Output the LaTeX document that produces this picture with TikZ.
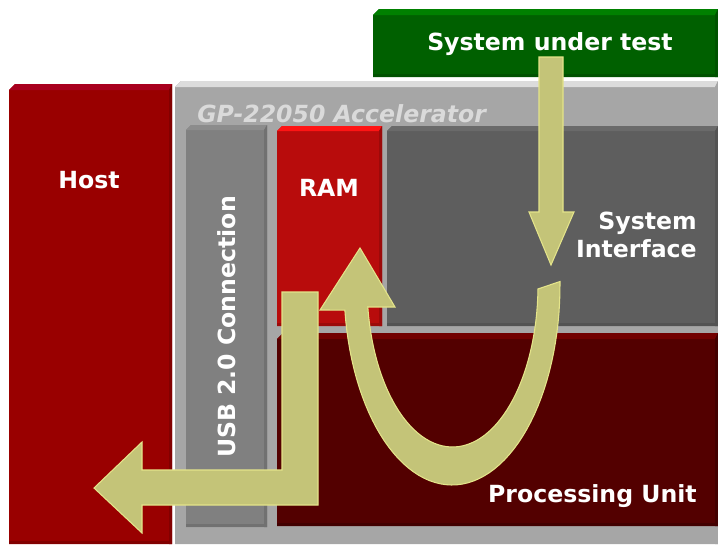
\documentclass[tikz,border=0pt]{standalone}
\usepackage{fontspec}
\setmainfont{DejaVu Sans}
\usepackage{xcolor}
\usepackage{tikz}
\usetikzlibrary{positioning, calc}

\definecolor{sutgreen}{HTML}{006000}
\definecolor{sutgreentop}{HTML}{008000}
\definecolor{hostred}{HTML}{990000}
\definecolor{hostredtop}{HTML}{A8001E}
\definecolor{accgray}{HTML}{A6A6A6}
\definecolor{accgraytop}{HTML}{DCDCDC}
\definecolor{usbgray}{HTML}{808080}
\definecolor{usbgraytop}{HTML}{8C8C8C}
\definecolor{ramred}{HTML}{B80C0C}
\definecolor{ramredtop}{HTML}{FF1414}
\definecolor{sifgray}{HTML}{5E5E5E}
\definecolor{sifgraytop}{HTML}{6A6A6A}
\definecolor{pured}{HTML}{530000}
\definecolor{puredtop}{HTML}{720000}
\definecolor{arrowfill}{HTML}{C4C478}
\definecolor{arrowedge}{HTML}{E4E48A}
\definecolor{acctext}{HTML}{DADADA}

% bevelled slab: x0 y0 x1 y1 face top side depth
\newcommand{\slab}[8]{%
  \fill[#5] (#1,#2+#8) -- (#1+#8,#2) -- (#3,#2) -- (#3,#4) -- (#1,#4) -- cycle;
  \fill[#6] (#1,#2+#8) -- (#1+#8,#2) -- (#3,#2) -- (#3-3,#2+#8) -- cycle;
  \fill[#7] (#3-3,#2+#8) -- (#3,#2) -- (#3,#4) -- (#3-3,#4) -- cycle;
  \fill[#7] (#1,#4-3) rectangle (#3-3,#4);
}

\tikzset{
  lbl/.style={text=white, inner sep=0pt, font=\bfseries\fontsize{17.7}{21}\selectfont},
  blockarrow/.style={fill=arrowfill, draw=arrowedge, line width=0.8pt, line join=miter}
}

\begin{document}
\begin{tikzpicture}[x=0.75pt, y=-0.75pt]
  \useasboundingbox (0,0) rectangle (718,544);
  \fill[white] (0,0) rectangle (718,544);

  % boxes
  \slab{373}{9}{718}{77}{sutgreen}{sutgreentop}{sutgreen!85!black}{6}
  \slab{175}{81}{718}{544}{accgray}{accgraytop}{accgray}{6}
  \slab{9}{84}{172}{544}{hostred}{hostredtop}{hostred!85!black}{6}
  \slab{186}{125}{267}{527}{usbgray}{usbgraytop}{usbgray!88!black}{5}
  \slab{277}{126}{382}{326}{ramred}{ramredtop}{ramred!85!black}{5}
  \slab{387}{126}{718}{326}{sifgray}{sifgraytop}{sifgray!88!black}{5}
  \slab{277}{333}{718}{526}{pured}{puredtop}{pured!80!black}{6}

  % arrows
  \filldraw[blockarrow] (539,57) -- (563,57) -- (563,212) -- (574,212)
    -- (551,265) -- (529,212) -- (539,212) -- cycle;
  \filldraw[blockarrow] (282,292) -- (318,292) -- (318,505) -- (142,505)
    -- (142,533) -- (94,488) -- (142,442) -- (142,470) -- (282,470) -- cycle;
  \filldraw[blockarrow]
    plot[domain=-1:172.8, samples=60] ({452+108*cos(\x)}, {285+200*sin(\x)})
    -- (320,310) -- (360,248) -- (395,307)
    -- plot[domain=172.2:1.4, samples=60] ({452.5+85.5*cos(\x)}, {285+162*sin(\x)})
    -- cycle;

  % labels
  \node[lbl, anchor=base] (sut) at (550,50) {System under test};
  \node[lbl, anchor=base] (host) at (89,188) {Host};
  \node[lbl, anchor=base west, text=acctext, font=\bfseries\itshape\fontsize{17.7}{21}\selectfont]
    (accel) at (197,122) {GP-22050 Accelerator};
  \node[lbl, anchor=base, rotate=90] (usb) at (235,327) {USB 2.0 Connection};
  \node[lbl, anchor=base] (ram) at (329,196) {RAM};
  \node[lbl, anchor=east, align=right] (sysif) at (697,235) {System\\Interface};
  \node[lbl, anchor=base east] (pu) at (697,502) {Processing Unit};
\end{tikzpicture}
\end{document}
